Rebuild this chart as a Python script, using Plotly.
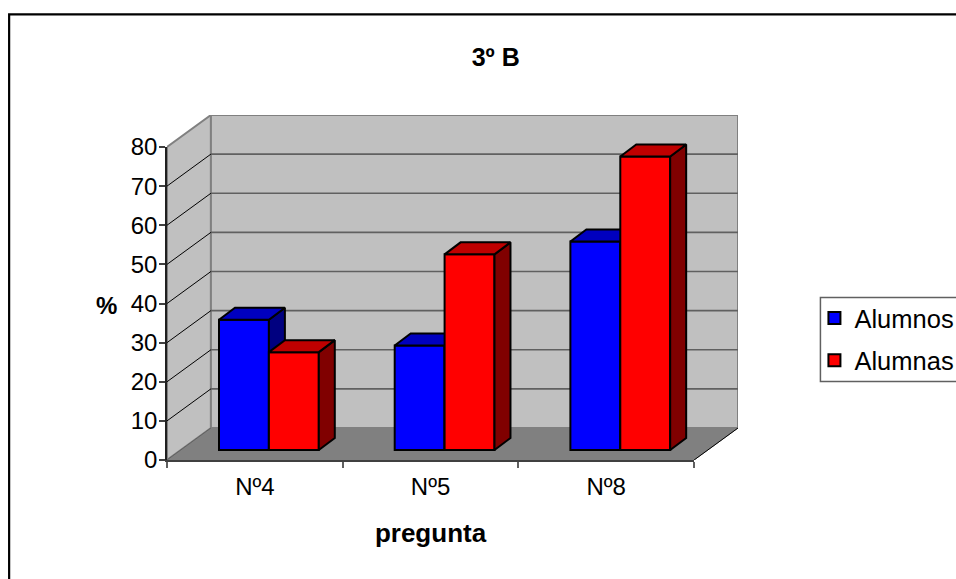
import plotly.graph_objects as go

# ---- data ----
categories = ["Nº4", "Nº5", "Nº8"]
alumnos = [33.3, 26.7, 53.3]
alumnas = [25.0, 50.0, 75.0]
y_ticks = [0, 10, 20, 30, 40, 50, 60, 70, 80]
series_names = ["Alumnos", "Alumnas"]

# ---- 3-D look, expressed in axis units ----
N = len(categories)
WALL_DX, WALL_DY = 0.25, 8.18     # depth of the chart box
BAR_DX, BAR_DY = 0.091, 3.07      # depth of a bar
LIFT = 2.56                       # bars stand mid-floor
BAR_W = 0.284
BLUE_OFF, RED_OFF = 0.438, 0.722
ymax = y_ticks[-1]

# drawing area in page pixels: front face plus the depth of the box
W, H = 956, 579
L, R, T, B = 167, 738.5, 115, 460
px = lambda p: (p - L) / (R - L)
py = lambda p: (B - p) / (B - T)


def poly(points, fill, line, width):
    xs, ys = zip(*points)
    return go.Scatter(x=list(xs), y=list(ys), mode="lines", fill="toself", fillcolor=fill,
                      line=dict(color=line, width=width), hoverinfo="skip", showlegend=False,
                      cliponaxis=False)


def seg(points, color, width):
    xs, ys = zip(*points)
    return go.Scatter(x=list(xs), y=list(ys), mode="lines", line=dict(color=color, width=width),
                      hoverinfo="skip", showlegend=False, cliponaxis=False)


def bar_faces(values, offset, name, front, top, side, axes):
    xs_side, ys_side, xs_top, ys_top = [], [], [], []
    for i, v in enumerate(values):
        x0 = i + offset - BAR_W / 2
        x1 = i + offset + BAR_W / 2
        y0, y1 = LIFT, LIFT + v
        xs_side += [x1, x1 + BAR_DX, x1 + BAR_DX, x1, x1, None]
        ys_side += [y0, y0 + BAR_DY, y1 + BAR_DY, y1, y0, None]
        xs_top += [x0, x0 + BAR_DX, x1 + BAR_DX, x1, x0, None]
        ys_top += [y1, y1 + BAR_DY, y1 + BAR_DY, y1, y1, None]
    common = dict(mode="lines", fill="toself", hoverinfo="skip", showlegend=False,
                  cliponaxis=False, xaxis=axes[0], yaxis=axes[1],
                  line=dict(color="#000000", width=2))
    return [
        go.Bar(x=[i + offset for i in range(N)], y=values, base=LIFT, width=BAR_W, name=name,
               marker=dict(color=front, line=dict(color="#000000", width=2)),
               cliponaxis=False, legendgroup=name, xaxis=axes[0], yaxis=axes[1]),
        go.Scatter(x=xs_side, y=ys_side, fillcolor=side, **common),
        go.Scatter(x=xs_top, y=ys_top, fillcolor=top, **common),
    ]


traces = [
    poly([(0, 0), (WALL_DX, WALL_DY), (WALL_DX, ymax + WALL_DY), (0, ymax), (0, 0)],
         "#C0C0C0", "#808080", 2),
    poly([(WALL_DX, WALL_DY), (N + WALL_DX, WALL_DY), (N + WALL_DX, ymax + WALL_DY),
          (WALL_DX, ymax + WALL_DY), (WALL_DX, WALL_DY)], "#C0C0C0", "#808080", 2),
    poly([(0, 0), (N, 0), (N + WALL_DX, WALL_DY), (WALL_DX, WALL_DY), (0, 0)],
         "#808080", "#808080", 1),
]
for v in y_ticks[1:-1]:
    traces.append(seg([(WALL_DX, v + WALL_DY), (N + WALL_DX, v + WALL_DY)], "#606060", 1.6))
    traces.append(seg([(0, v), (WALL_DX, v + WALL_DY)], "#000000", 1))
traces.append(seg([(0, 0), (WALL_DX, WALL_DY)], "#606060", 1))
traces.append(seg([(N, 0), (N + WALL_DX, WALL_DY)], "#000000", 1))

traces += bar_faces(alumnos, BLUE_OFF, series_names[0], "#0000FF", "#0000BF", "#000080", ("x2", "y2"))
traces += bar_faces(alumnas, RED_OFF, series_names[1], "#FF0000", "#BF0000", "#800000", ("x3", "y3"))
# keeps the subplot that carries the visible axes alive
traces.append(go.Scatter(x=[None], y=[None], xaxis="x4", yaxis="y4", showlegend=False, hoverinfo="skip"))

fig = go.Figure(traces)

FONT = "Liberation Sans"
x_full = [0, N + WALL_DX]
y_full = [0, ymax + WALL_DY]


def hidden(rng, anchor):
    return dict(visible=False, fixedrange=True, range=rng, anchor=anchor, domain=[0, 1])


fig.update_layout(
    width=W, height=H, autosize=False,
    margin=dict(l=L, r=W - R, t=T, b=H - B, pad=0, autoexpand=False),
    paper_bgcolor="#FFFFFF", plot_bgcolor="rgba(0,0,0,0)",
    font=dict(family=FONT, size=24, color="#000000"),
    barmode="overlay",
    title=dict(text="<b>3º B</b>", x=px(496), xanchor="center", xref="paper",
               y=1 - 57 / H, yanchor="middle", font=dict(size=25)),
    xaxis=hidden(x_full, "y"), yaxis=hidden(y_full, "x"),
    xaxis2=hidden(x_full, "y2"), yaxis2=hidden(y_full, "x2"),
    xaxis3=hidden(x_full, "y3"), yaxis3=hidden(y_full, "x3"),
    xaxis4=dict(domain=[0, N / (N + WALL_DX)], anchor="y4", range=[0, N],
                tickvals=[i + 0.5 for i in range(N)], ticktext=categories,
                ticks="", showgrid=False, zeroline=False, showline=True, linecolor="#404040",
                linewidth=1.5, ticklabelstandoff=4,
                minor=dict(tickvals=list(range(N + 1)), ticks="outside", ticklen=6,
                           tickcolor="#606060", tickwidth=1.5, showgrid=False),
                title=dict(text="<b>pregunta</b>", standoff=25, font=dict(size=26))),
    yaxis4=dict(domain=[0, ymax / (ymax + WALL_DY)], anchor="x4", range=[0, ymax],
                tickvals=y_ticks, ticks="outside", ticklen=6, tickcolor="#404040",
                tickwidth=1.5, showgrid=False, zeroline=False, showline=True, linecolor="#202020",
                linewidth=1.5, ticklabelstandoff=-3),
    legend=dict(x=px(815), xanchor="left", y=py(295), yanchor="top",
                bgcolor="rgba(0,0,0,0)", borderwidth=0,
                font=dict(size=25.5), tracegroupgap=6, traceorder="grouped", itemclick=False),
    annotations=[dict(text="<b>%</b>", xref="paper", yref="paper", x=px(106), y=py(305),
                      xanchor="center", yanchor="middle", showarrow=False, font=dict(size=24))],
    shapes=[
        dict(type="rect", xref="paper", yref="paper", x0=px(9), x1=px(1000),
             y0=py(640), y1=py(14.3), line=dict(color="#000000", width=2.2),
             fillcolor="rgba(0,0,0,0)", layer="below"),
        dict(type="rect", xref="paper", yref="paper", x0=px(821), x1=px(1000),
             y0=py(381.5), y1=py(297.5), line=dict(color="#606060", width=1.5),
             fillcolor="#FFFFFF", layer="below"),
    ],
)
fig.write_html("out.html", config={"displayModeBar": False},
               post_script="document.body.style.margin='0';document.documentElement.style.overflow='hidden';")
